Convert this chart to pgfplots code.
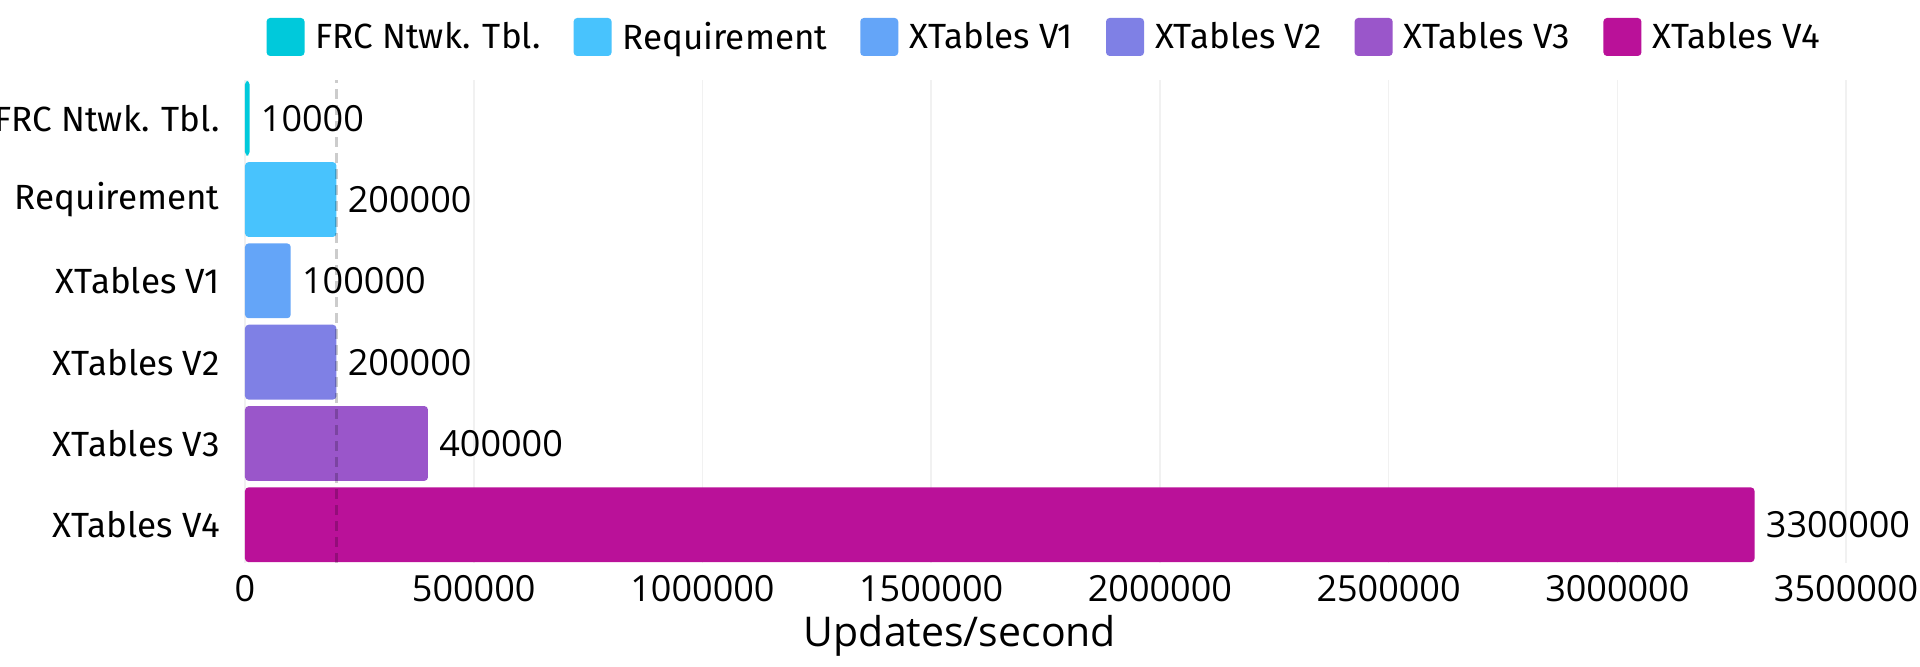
\documentclass[border=0pt]{standalone}
\usepackage{pgfplots}
\pgfplotsset{compat=1.18}
\usepackage{fontspec}
\setmainfont{Fira Sans}
\newfontfamily\numfont{Open Sans}
\definecolor{cA}{HTML}{00C9DB}
\definecolor{cB}{HTML}{48C3FD}
\definecolor{cC}{HTML}{64A5F8}
\definecolor{cD}{HTML}{7F80E5}
\definecolor{cE}{HTML}{9A56CA}
\definecolor{cF}{HTML}{BA1199}
\definecolor{gridc}{HTML}{F1F1F1}
\begin{document}
\begin{tikzpicture}
\begin{axis}[
  name=ax, at={(0,0)}, anchor=south west,
  width=800.5pt, height=241.5pt, scale only axis,
  xmin=0, xmax=3500000, ymin=-0.47, ymax=5.47,
  xtick={0,500000,1000000,1500000,2000000,2500000,3000000,3500000},
  scaled x ticks=false,
  xticklabel style={/pgf/number format/fixed, /pgf/number format/1000 sep={}, /pgf/number format/assume math mode=true, font=\numfont\fontsize{18}{20}\selectfont, inner sep=0pt, anchor=north, yshift=-6pt},
  ytick={0,1,2,3,4,5},
  yticklabels={XTables V4, XTables V3, XTables V2, XTables V1, Requirement, FRC Ntwk. Tbl.},
  yticklabel style={font=\fontsize{17.5}{20}\selectfont, inner sep=0pt, anchor=east, xshift=-12.5pt},
  major tick length=0pt,
  tick style={draw=none},
  axis line style={draw=none},
  xmajorgrids, major grid style={gridc, line width=0.8pt},
  xlabel={Updates/second},
  xlabel style={font=\numfont\fontsize{20.5}{22}\selectfont, at={(axis description cs:0.4466,0)}, anchor=center, yshift=-36.5pt},
  mybar/.style={xbar, bar width=0.92, bar shift=0pt, draw=none, fill=#1, rounded corners=1.8pt,
     point meta=explicit symbolic, nodes near coords,
     every node near coord/.append style={anchor=west, inner sep=0pt, xshift=5.5pt, text=black, font=\numfont\fontsize{18}{20}\selectfont}},
  legend columns=6,
  legend image code/.code={\fill[#1] (0pt,-9.5pt) rectangle (19pt,9.5pt);},
  legend style={draw=none, at={(axis description cs:0.4985,1)}, anchor=center, yshift=21.5pt,
    font=\fontsize{17.5}{20}\selectfont, nodes={inner sep=0pt},
    /tikz/every odd column/.append style={column sep=5.5pt},
    /tikz/every even column/.append style={column sep=16.5pt}},
]
\addplot[mybar=cA] coordinates {(10000,5) [10000]};
\addplot[mybar=cB] coordinates {(200000,4) [200000]};
\addplot[mybar=cC] coordinates {(100000,3) [100000]};
\addplot[mybar=cD] coordinates {(200000,2) [200000]};
\addplot[mybar=cE] coordinates {(400000,1) [400000]};
\addplot[mybar=cF] coordinates {(3300000,0) [3300000]};
\addplot[black, opacity=0.2, line width=1.5pt, dash pattern=on 5pt off 3pt, forget plot] coordinates {(200000,-0.47) (200000,5.47)};
\legend{FRC Ntwk. Tbl., Requirement, XTables V1, XTables V2, XTables V3, XTables V4}
\end{axis}
\pgfresetboundingbox
\path[use as bounding box] (-122.5pt,-52pt) rectangle (837.5pt,281.5pt);
\end{tikzpicture}
\end{document}
